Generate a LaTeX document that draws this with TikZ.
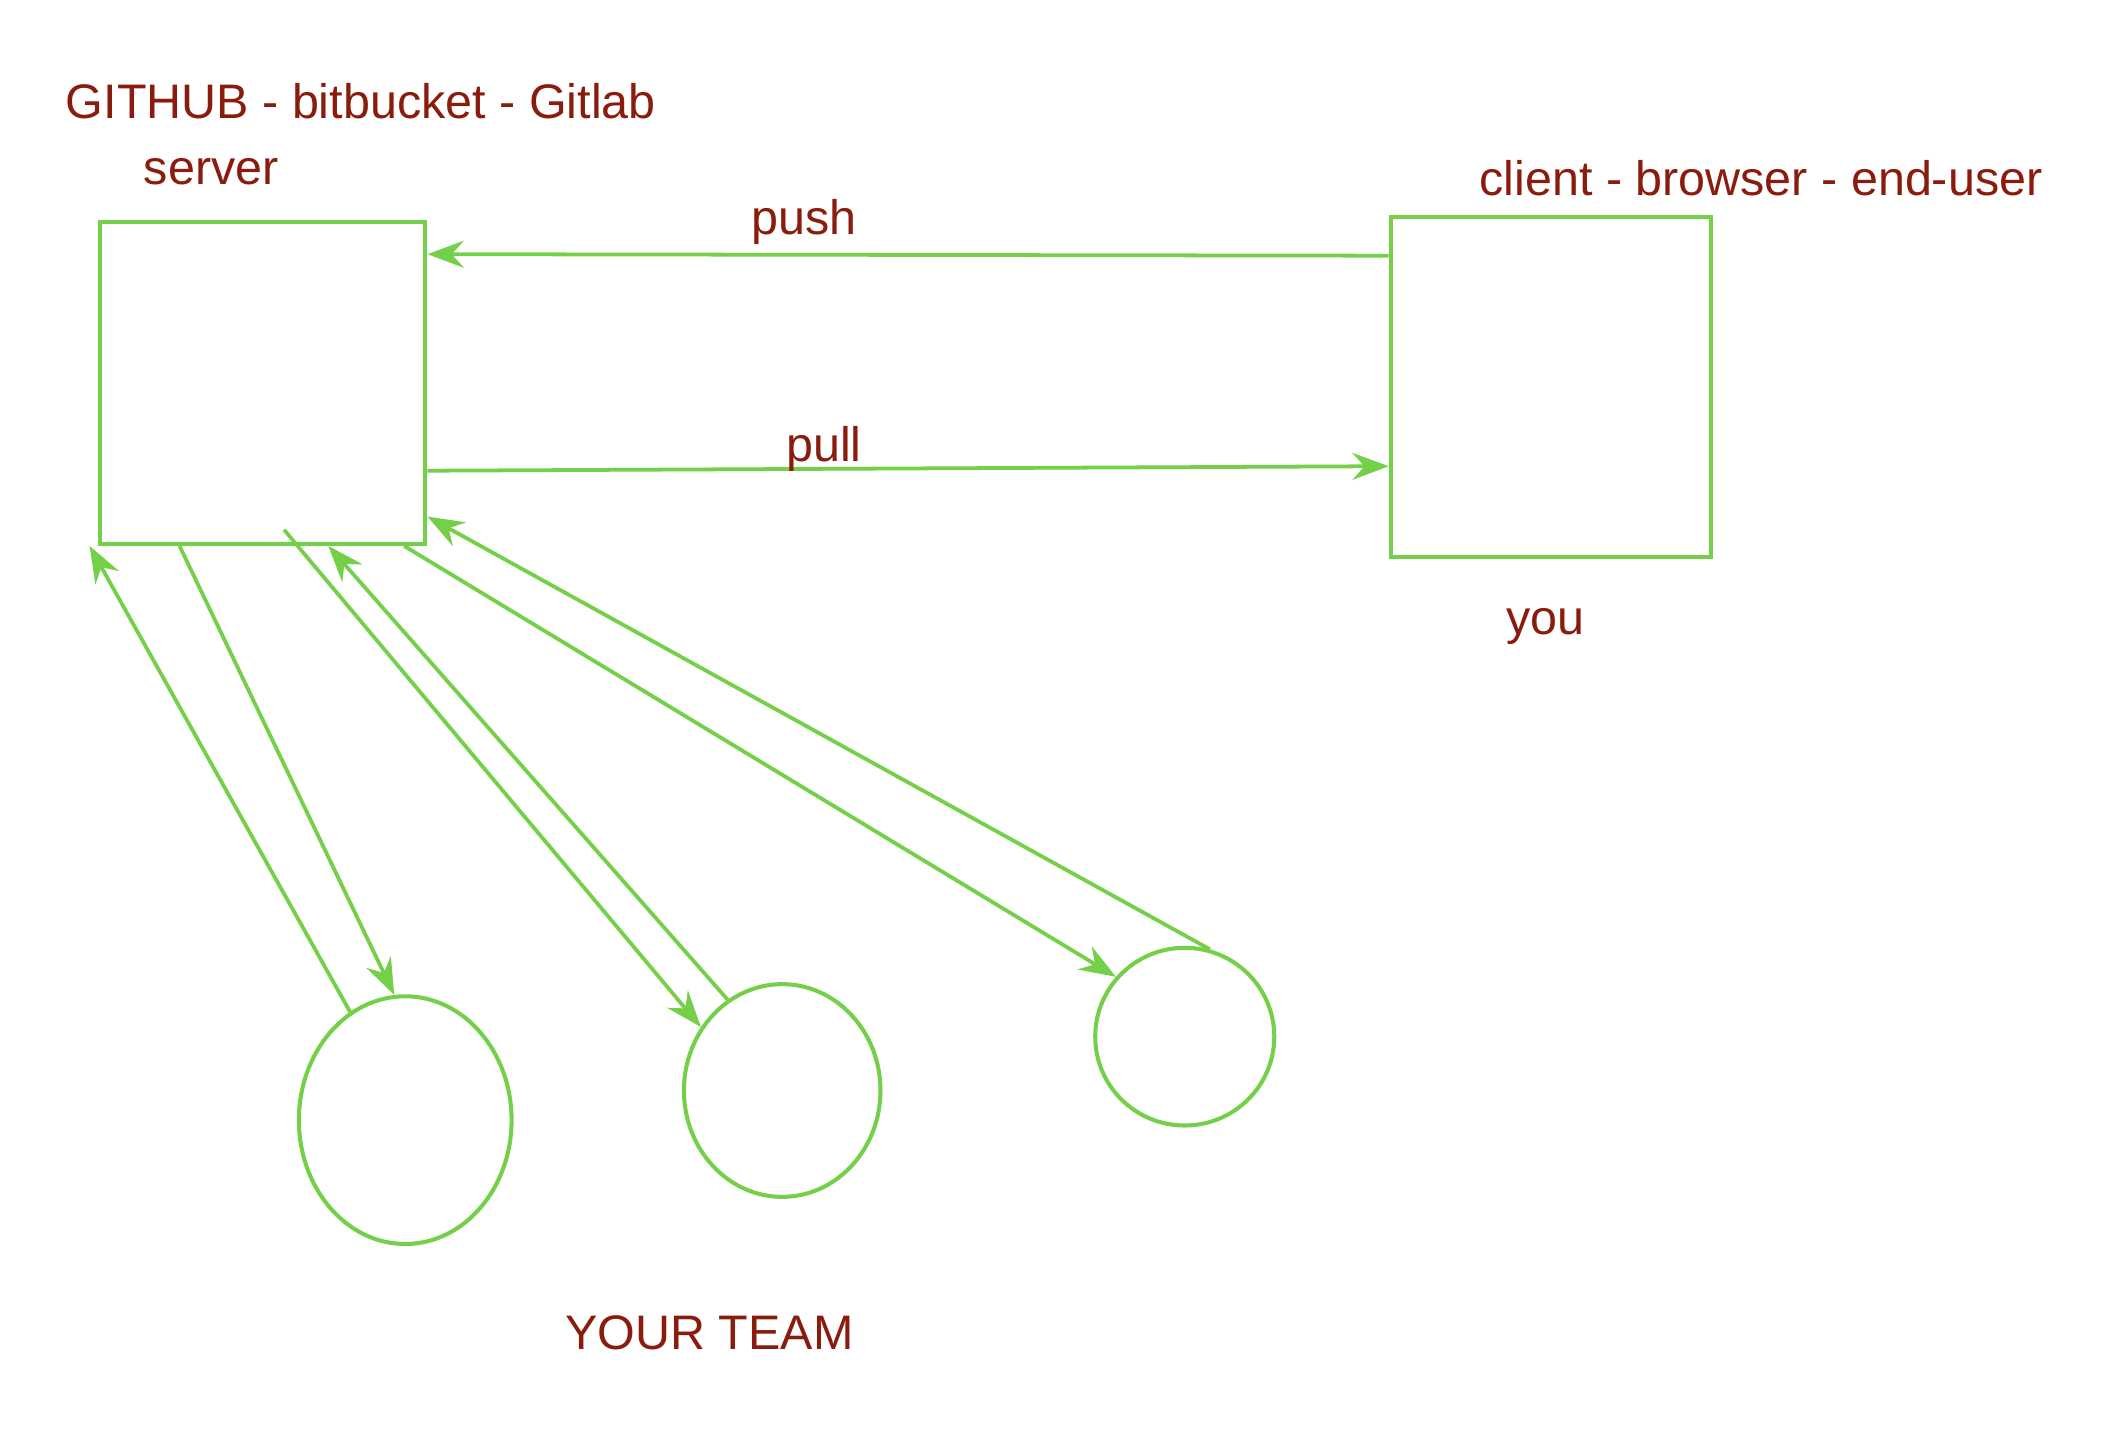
\documentclass[tikz,border=0pt]{standalone}
\usepackage{fontspec}
\setmainfont{Liberation Sans}
\usetikzlibrary{arrows.meta,shapes.geometric}

\definecolor{linegreen}{RGB}{116,208,72}
\definecolor{textred}{RGB}{138,28,14}

\tikzset{
  box/.style={draw=linegreen, line width=3pt, inner sep=0pt},
  member/.style={draw=linegreen, line width=3pt, ellipse, inner sep=0pt},
  flow/.style={draw=linegreen, line width=2.8pt, -{Stealth[length=27pt,width=20pt,inset=9pt]}},
  link/.style={draw=linegreen, line width=2.8pt},
  txt/.style={text=textred, inner sep=0.75pt, font=\fontsize{36}{43}\selectfont},
}

\begin{document}
\begin{tikzpicture}[x=1pt,y=1pt,yscale=-1,xscale=1]
\useasboundingbox (0,0) rectangle (1568,1073);

%Shape: Rectangle
\node (server) [box, minimum width=242pt, minimum height=239pt] at (195,284.5) {};
%Shape: Rectangle
\node (client) [box, minimum width=238pt, minimum height=253pt] at (1152,287.5) {};
%Shape: Ellipse
\node (m1) [member, minimum width=158pt, minimum height=184pt] at (301,832) {};
%Shape: Ellipse
\node (m2) [member, minimum width=146pt, minimum height=158pt] at (581,810) {};
%Shape: Circle
\node (m3) [member, minimum width=133pt, minimum height=132pt] at (880,770) {};

%Straight Lines
\draw [flow] (client.141) -- (server.38.5);
%Straight Lines
\draw [flow] (server.-28) -- (client.206);

%Straight Lines
\coordinate (s1) at ([xshift=-6pt]server.south west);
\draw [flow] (m1.117) -- (s1);
%Straight Lines
\draw [flow] (server.243) -- (m1.95);
%Straight Lines
\coordinate (s3) at ([xshift=16pt,yshift=-12pt]server.south);
\draw [flow] (s3) -- (m2.142);
%Straight Lines
\draw [flow] (m2.121) -- (server.292);
%Straight Lines
\draw [flow] (server.311) -- (m3.139);
%Straight Lines
\draw [flow] (m3.74) -- (server.321);

% Text Node
\node (hosts) [txt, anchor=base west] at (48,88) {GITHUB - bitbucket - Gitlab};
% Text Node
\node (srv) [txt, anchor=base west] at (106,137) {server};
% Text Node
\node (push) [txt, anchor=base west] at (557,174) {push};
% Text Node
\node (pull) [txt, anchor=base west] at (583,343) {pull};
% Text Node
\node (roles) [txt, anchor=base west] at (1098,145) {client - browser - end-user};
% Text Node
\node (you) [txt, anchor=base west] at (1118,471) {you};
% Text Node
\node (team) [txt, anchor=base west] at (419,1002) {YOUR TEAM};

\end{tikzpicture}
\end{document}
